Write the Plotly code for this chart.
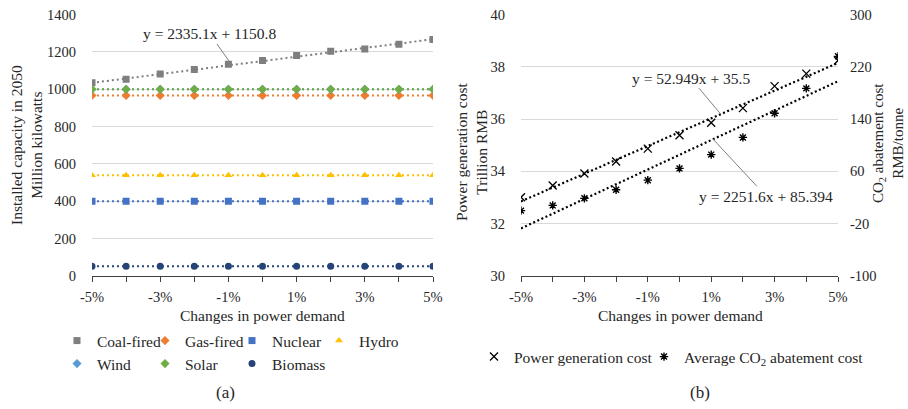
import numpy as np
import plotly.graph_objects as go

# ---------------- data ----------------
demand_change = [-0.05, -0.04, -0.03, -0.02, -0.01, 0.0, 0.01, 0.02, 0.03, 0.04, 0.05]
tick_vals = demand_change
tick_text = ["-5%", "", "-3%", "", "-1%", "", "1%", "", "3%", "", "5%"]

coal = [1035, 1053, 1081, 1106, 1134, 1154, 1181, 1203, 1215, 1241, 1266]
gas = [967] * 11
nuclear = [400] * 11
hydro = [540] * 11
wind = [1000] * 11
solar = [1000] * 11
biomass = [52] * 11

power_cost = [33.01, 33.46, 33.92, 34.38, 34.87, 35.38, 35.86, 36.42, 37.26, 37.74, 38.24]
abatement_cost = [0, 8, 18.8, 32, 46.6, 64.6, 85.7, 112, 149, 187, 236]

abate_tick_vals = [-100, -20, 60, 140, 220, 300]
abate_tick_text = ["-100", "-20", "60", "140", "220", "300"]

coal_trend = (2335.1, 1150.8)
power_trend = (52.949, 35.5)
abate_trend = (2251.6, 85.394)

FONT = "Liberation Serif"
TXT = "#262626"
W, H = 908, 409

def px_x(p):
    return p / W

def px_y(p):
    return 1 - p / H

fig = go.Figure()

# legend slot: (legend id, text-start pixel x, row pixel y)
series = [
    ("Coal-fired", coal, "#7f7f7f", "square", 7, ("legend", 97, 341)),
    ("Gas-fired", gas, "#ed7d31", "diamond", 7, ("legend2", 185, 341)),
    ("Nuclear", nuclear, "#4472c4", "square", 7, ("legend3", 272, 341)),
    ("Hydro", hydro, "#ffc000", "triangle-up", 7, ("legend4", 359, 341)),
    ("Wind", wind, "#5b9bd5", "diamond", 7, ("legend5", 97, 364)),
    ("Solar", solar, "#70ad47", "diamond", 7, ("legend6", 185, 364)),
    ("Biomass", biomass, "#264478", "circle", 7, ("legend7", 272, 364)),
]
legend_slots = {}
xs = np.array(demand_change)
for name, vals, color, sym, size, slot in series:
    slope, icpt = np.polyfit(xs, np.array(vals, dtype=float), 1)
    if name == "Coal-fired":
        slope, icpt = coal_trend
    fig.add_trace(go.Scatter(
        x=demand_change, y=list(slope * xs + icpt), mode="lines",
        line=dict(color=color, width=2, dash="2px,3px"),
        showlegend=False, hoverinfo="skip", xaxis="x", yaxis="y"))
    fig.add_trace(go.Scatter(
        x=demand_change, y=vals, mode="markers", name=name,
        marker=dict(symbol=sym, size=size, color=color),
        legend=slot[0], xaxis="x", yaxis="y"))
    legend_slots[slot[0]] = slot[1:]

# ---------------- right chart ----------------
fig.add_trace(go.Scatter(
    x=demand_change, y=list(power_trend[0] * xs + power_trend[1]), mode="lines",
    line=dict(color="black", width=2.2, dash="2px,2.5px"),
    showlegend=False, hoverinfo="skip", xaxis="x2", yaxis="y2"))
fig.add_trace(go.Scatter(
    x=demand_change, y=list(abate_trend[0] * xs + abate_trend[1]), mode="lines",
    line=dict(color="black", width=2.2, dash="2px,2.5px"),
    showlegend=False, hoverinfo="skip", xaxis="x2", yaxis="y3"))
fig.add_trace(go.Scatter(
    x=demand_change, y=power_cost, mode="markers", name="Power generation cost",
    marker=dict(symbol="x-thin-open", size=8, color="black",
                line=dict(color="black", width=1.3)),
    legend="legend8", xaxis="x2", yaxis="y2"))
fig.add_trace(go.Scatter(
    x=demand_change, y=abatement_cost, mode="markers",
    name="Average CO<sub>2</sub> abatement cost",
    marker=dict(symbol="asterisk-open", size=7, color="black",
                line=dict(color="black", width=1.4)),
    legend="legend9", xaxis="x2", yaxis="y3"))
legend_slots["legend8"] = (514, 357)
legend_slots["legend9"] = (684, 357)

# ---------------- axes ----------------
tickfont = dict(family=FONT, size=14.5, color=TXT)
xcommon = dict(range=[-0.05, 0.05], tickvals=tick_vals, ticktext=tick_text,
               showgrid=False, zeroline=False, showline=True, linecolor="#404040",
               linewidth=1, ticks="outside", ticklen=5, tickcolor="#404040",
               tickfont=tickfont, fixedrange=True, automargin=False,
               ticklabelstandoff=3)
ycommon = dict(showgrid=True, gridcolor="#d9d9d9", gridwidth=1, zeroline=False,
               showline=False, ticks="", tickfont=tickfont, automargin=False,
               ticklabelstandoff=15)

top_px, bot_px = 14.5, 276
fig.update_layout(
    width=W, height=H,
    margin=dict(l=0, r=0, t=0, b=0, pad=0, autoexpand=False),
    paper_bgcolor="white", plot_bgcolor="white",
    font=dict(family=FONT, size=15.5, color=TXT),
    xaxis=dict(domain=[px_x(92), px_x(433)], anchor="y", **xcommon),
    yaxis=dict(domain=[px_y(bot_px), px_y(top_px)], anchor="x",
               range=[0, 1400], dtick=200, **ycommon),
    xaxis2=dict(domain=[px_x(521), px_x(838)], anchor="y2", **xcommon),
    yaxis2=dict(domain=[px_y(bot_px), px_y(top_px)], anchor="x2",
                range=[30, 40], dtick=2, **ycommon),
    yaxis3=dict(overlaying="y2", anchor="x2", side="right", range=[-100, 300],
                tickvals=abate_tick_vals, ticktext=abate_tick_text,
                showgrid=False, zeroline=False, showline=False,
                tickfont=tickfont, automargin=False, ticklabelstandoff=11),
    showlegend=True,
)

# one legend per entry so every entry sits where the reference has it
TEXT_OFFSET = 40  # plotly puts legend text ~40px right of the legend's left edge
legends = {}
for lid, (tx, ty) in legend_slots.items():
    legends[lid] = dict(orientation="h", xanchor="left", yanchor="middle",
                        x=px_x(tx - TEXT_OFFSET), y=px_y(ty),
                        font=dict(family=FONT, size=15.5, color=TXT),
                        bgcolor="rgba(0,0,0,0)",
                        itemclick=False, itemdoubleclick=False)
fig.update_layout(**legends)

# ---------------- annotations ----------------
ann = []
def label(text, x, y, angle=0, size=15.5):
    ann.append(dict(text=text, x=x, y=y, xref="paper", yref="paper", showarrow=False,
                    textangle=angle, font=dict(family=FONT, size=size, color=TXT),
                    xanchor="center", yanchor="middle"))

label("Installed capacity in 2050<br>Million kilowatts", px_x(26), px_y(145), angle=-90)
label("Power generation cost<br>Trillion RMB", px_x(472), px_y(152), angle=-90)
label("CO<sub>2</sub> abatement cost<br>RMB/tonne", px_x(888), px_y(143), angle=-90, size=15)
label("Changes in power demand", px_x(262), px_y(315))
label("Changes in power demand", px_x(680), px_y(315))
label("(a)", px_x(225), px_y(392), size=17)
label("(b)", px_x(700), px_y(392), size=17)

# trendline equation labels with leader lines
def eq_label(text, x, y, xref, yref, ax, ay):
    ann.append(dict(text=text, x=x, y=y, xref=xref, yref=yref, ax=ax, ay=ay,
                    showarrow=True, arrowhead=0, arrowwidth=1, arrowcolor="#7f7f7f",
                    font=dict(family=FONT, size=15.5, color=TXT),
                    bgcolor="rgba(0,0,0,0)"))

xc = -0.009
eq_label("y = 2335.1x + 1150.8", xc, coal_trend[0] * xc + coal_trend[1], "x", "y", -22, -31)
xp = 0.013
eq_label("y = 52.949x + 35.5", xp, power_trend[0] * xp + power_trend[1], "x2", "y2", -30, -36)
xa = 0.0106
eq_label("y = 2251.6x + 85.394", xa, abate_trend[0] * xa + abate_trend[1], "x2", "y3", 53, 57)

fig.update_layout(annotations=ann)

fig.write_html("out.html")
